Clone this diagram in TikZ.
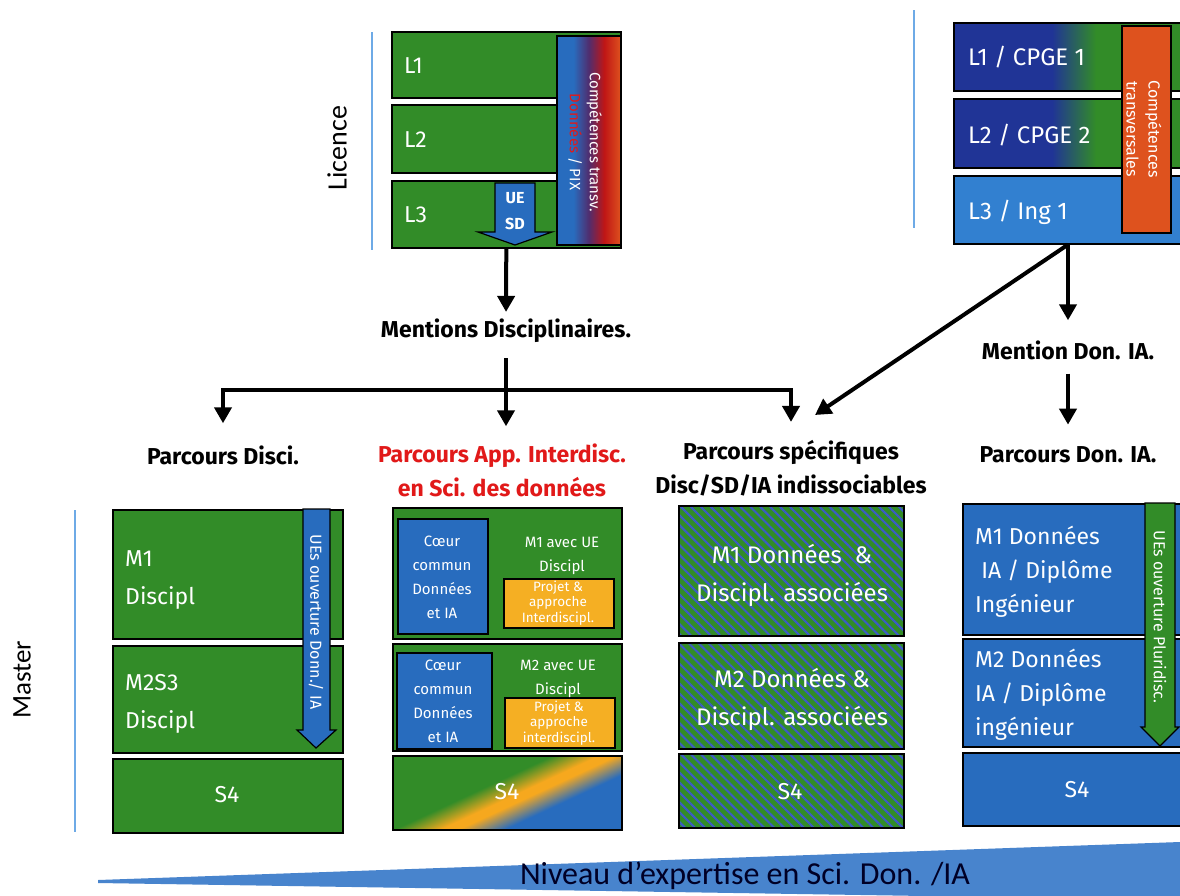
\documentclass[tikz,border=0pt]{standalone}
\usepackage{fontspec}
\setmainfont{Fira Sans}
\newfontfamily\calib{Carlito}
\usetikzlibrary{arrows.meta,patterns.meta}
\definecolor{gr}{RGB}{50,140,40}
\definecolor{bl}{RGB}{40,108,190}
\definecolor{dbl}{RGB}{32,52,150}
\definecolor{lbl}{RGB}{50,128,208}
\definecolor{orb}{RGB}{222,82,30}
\definecolor{yel}{RGB}{245,175,35}
\definecolor{rd}{RGB}{225,25,25}
\definecolor{wedge}{RGB}{72,132,205}
\definecolor{vline}{RGB}{110,170,230}
\definecolor{stripe}{RGB}{60,90,200}
\definecolor{dpur}{RGB}{80,45,110}
\pgfdeclarehorizontalshading{compshade}{100bp}{color(0bp)=(bl); color(25bp)=(bl); color(38bp)=(bl); color(50bp)=(dpur); color(62bp)=(rd!85!black); color(75bp)=(orb); color(100bp)=(orb)}
\pgfdeclarehorizontalshading{cpgeshade}{100bp}{color(0bp)=(dbl); color(25bp)=(dbl); color(45bp)=(dbl); color(54bp)=(gr); color(75bp)=(gr); color(100bp)=(gr)}
\pgfdeclarehorizontalshading{sfourshade}{100bp}{color(0bp)=(gr); color(25bp)=(gr); color(44bp)=(gr); color(52bp)=(yel!85!orange); color(55bp)=(yel!85!orange); color(63bp)=(bl); color(75bp)=(bl); color(100bp)=(bl)}
\tikzset{
  bx/.style={draw=black, line width=1.6pt, fill=gr, inner sep=0pt, anchor=north west},
  wt/.style={text=white, inner sep=0pt, font=\fontsize{23}{38}\selectfont},
  lab/.style={font=\bfseries\fontsize{23}{34}\selectfont, inner sep=0pt, align=center},
  arr/.style={line width=4pt, -{Triangle[width=17pt,length=16pt]}},
  ln/.style={line width=4pt},
  vl/.style={draw=vline, line width=1.2pt},
  hatch/.style={preaction={fill=gr}, pattern={Lines[angle=-45,distance=7pt,line width=2pt]}, pattern color=stripe},
  arrpoly/.style={draw=black, line width=1.2pt},
}
\begin{document}
\begin{tikzpicture}[x=1pt,y=-1pt]
\useasboundingbox (0,0) rectangle (1180,895);
\fill[white] (0,0) rectangle (1180,895);
\clip (0,0) rectangle (1180,895);

% ---------- Licence (left) ----------
\node[rotate=90, font=\calib\fontsize{28}{30}\selectfont, inner sep=0pt] (lic) at (337,148) {Licence};
\draw[vl] (372,32) -- (372,250);
\node[bx, minimum width=229pt, minimum height=66pt] (L1) at (391,31) {};
\node[bx, minimum width=229pt, minimum height=68pt] (L2) at (391,104) {};
\node[bx, minimum width=229pt, minimum height=67pt] (L3) at (391,180) {};
\node[wt, anchor=west] (tL1) at (404,66) {L1};
\node[wt, anchor=west] (tL2) at (404,140) {L2};
\node[wt, anchor=west] (tL3) at (404,215) {L3};
\node[bx, shading=compshade, minimum width=64pt, minimum height=209pt] (bar) at (556,35) {};
\node[rotate=-90, align=center, text=white, inner sep=0pt, font=\fontsize{15}{20}\selectfont] (barT) at (585,142) {Compétences transv.\\\textcolor{rd}{Données} / PIX};
\draw[arrpoly, fill=bl] (495,183) -- (535,183) -- (535,232) -- (552,232) -- (515,245) -- (478,232) -- (495,232) -- cycle;
\node[font=\bfseries\fontsize{16}{26}\selectfont, text=white, align=center, inner sep=0pt] (uesd) at (515,211) {UE\\SD};

% ---------- Licence (right) ----------
\draw[vl] (914,10) -- (914,228);
\node[bx, shading=cpgeshade, minimum width=245pt, minimum height=68pt] (C1) at (953,22) {};
\node[bx, shading=cpgeshade, minimum width=245pt, minimum height=69pt] (C2) at (953,98) {};
\node[bx, fill=lbl, minimum width=245pt, minimum height=68pt] (L3i) at (953,175) {};
\node[wt, anchor=west, font=\fontsize{24}{30}\selectfont] (tC1) at (968,57) {L1 / CPGE 1};
\node[wt, anchor=west, font=\fontsize{24}{30}\selectfont] (tC2) at (968,135) {L2 / CPGE 2};
\node[wt, anchor=west, font=\fontsize{24}{30}\selectfont] (tC3) at (968,212) {L3 / Ing 1};
\node[bx, fill=orb, minimum width=49pt, minimum height=207pt] (obar) at (1121,25) {};
\node[rotate=-90, align=center, text=white, inner sep=0pt, font=\fontsize{16}{22}\selectfont] (obarT) at (1144,129) {Compétences\\transversales};

% ---------- labels ----------
\node[lab] (mentD) at (506,331) {Mentions Disciplinaires.};
\node[lab] (pDisc) at (223,455) {Parcours Disci.};
\node[lab, text=rd] (pApp) at (502,470) {Parcours App. Interdisc.\\en Sci. des données};
\node[lab] (pSpec) at (791,468) {Parcours spécifiques\\Disc/SD/IA indissociables};
\node[lab] (mDon) at (1068,350) {Mention Don. IA.};
\node[lab] (pDon) at (1068,455) {Parcours Don. IA.};

% ---------- connectors ----------
\coordinate (br) at (506,390);
\coordinate (dtip) at (815,415);
\draw[arr, shorten >=7pt] (L3.south) -- (mentD.north);
\draw[ln, shorten <=15pt] (mentD.south) -- (br);
\draw[arr, shorten >=22pt] (br) -| (pDisc.north);
\draw[arr, shorten >=17pt] (br) -- (br |- pApp.north);
\draw[arr, shorten >=18pt] (br) -| (pSpec.north);
\draw[arr, shorten >=20pt] (L3i.south -| mDon.north) -- (mDon.north);
\draw[arr] (L3i.south -| mDon.north) -- (dtip);
\draw[arr, shorten <=14pt, shorten >=22pt] (mDon.south) -- (pDon.north);

% ---------- Master ----------
\node[rotate=90, font=\calib\fontsize{27}{30}\selectfont, inner sep=0pt] (mas) at (22,680) {Master};
\draw[vl] (75,510) -- (75,832);

% column 1
\node[bx, minimum width=230pt, minimum height=129pt] (a1) at (112,509) {};
\node[bx, minimum width=230pt, minimum height=107pt] (a2) at (112,645) {};
\node[bx, minimum width=230pt, minimum height=74pt] (a3) at (112,758) {};
\node[wt, anchor=west, align=left] (ta1) at (125,580) {M1\\Discipl};
\node[wt, anchor=west, align=left] (ta2) at (125,704) {M2S3\\Discipl};
\node[wt] (ta3) at (227,795) {S4};
\draw[arrpoly, fill=bl] (303,509) -- (330,509) -- (330,730) -- (336,730) -- (316,748) -- (297,730) -- (303,730) -- cycle;
\node[rotate=-90, text=white, inner sep=0pt, font=\fontsize{16}{18}\selectfont] (ta4) at (316,622) {UEs ouverture Donn./ IA};

% column 2
\node[bx, minimum width=229pt, minimum height=131pt] (b1) at (392,507) {};
\node[bx, minimum width=229pt, minimum height=107pt] (b2) at (392,643) {};
\node[bx, shading=sfourshade, shading angle=-65, minimum width=229pt, minimum height=74pt] (b3) at (392,755) {};
\node[bx, fill=bl, minimum width=90pt, minimum height=115pt] (cc1) at (397,518) {};
\node[bx, fill=bl, minimum width=95pt, minimum height=96pt] (cc2) at (396,652) {};
\node[bx, fill=yel, minimum width=110pt, minimum height=49pt] (pj1) at (503,578) {};
\node[bx, fill=yel, minimum width=110pt, minimum height=50pt] (pj2) at (504,697) {};
\node[text=white, align=center, inner sep=0pt, font=\fontsize{15}{24}\selectfont] (tcc1) at (442,577) {Cœur\\commun\\Données\\et IA};
\node[text=white, align=center, inner sep=0pt, font=\fontsize{15}{24}\selectfont] (tcc2) at (443,701) {Cœur\\commun\\Données\\et IA};
\node[text=white, align=center, inner sep=0pt, font=\fontsize{15}{24}\selectfont] (tb1) at (562,556) {M1 avec UE\\Discipl};
\node[text=white, align=center, inner sep=0pt, font=\fontsize{15}{24}\selectfont] (tb2) at (558,679) {M2 avec UE\\Discipl};
\node[text=white, align=center, inner sep=0pt, font=\fontsize{13.5}{15.5}\selectfont] (tpj1) at (558,603) {Projet \&\\approche\\Interdiscipl.};
\node[text=white, align=center, inner sep=0pt, font=\fontsize{13.5}{15.5}\selectfont] (tpj2) at (559,723) {Projet \&\\approche\\interdiscipl.};
\node[wt] (tb3) at (507,792) {S4};

% column 3
\node[bx, hatch, minimum width=225pt, minimum height=130pt] (c1) at (678,505) {};
\node[bx, hatch, minimum width=225pt, minimum height=106pt] (c2) at (678,642) {};
\node[bx, hatch, minimum width=225pt, minimum height=74pt] (c3) at (678,753) {};
\node[wt, align=center, font=\fontsize{24}{38}\selectfont] (tc1) at (792,575) {M1 Données\ \ \&\\Discipl. associées};
\node[wt, align=center, font=\fontsize{24}{38}\selectfont] (tc2) at (792,699) {M2 Données \&\\Discipl. associées};
\node[wt] (tc3) at (790,792) {S4};

% column 4
\node[bx, fill=bl, minimum width=235pt, minimum height=131pt] (d1) at (962,503) {};
\node[bx, fill=bl, minimum width=235pt, minimum height=108pt] (d2) at (962,638) {};
\node[bx, fill=bl, minimum width=235pt, minimum height=73pt] (d3) at (962,752) {};
\node[wt, anchor=west, align=left, font=\fontsize{23}{34}\selectfont] (td1) at (975,572) {M1 Données\\\ IA / Diplôme\\Ingénieur};
\node[wt, anchor=west, align=left, font=\fontsize{23}{34}\selectfont] (td2) at (975,695) {M2 Données\\IA / Diplôme\\ingénieur};
\node[wt] (td3) at (1077,790) {S4};
\draw[arrpoly, fill=gr] (1145,503) -- (1175,503) -- (1175,727) -- (1179,727) -- (1160,746) -- (1141,727) -- (1145,727) -- cycle;
\node[rotate=-90, text=white, inner sep=0pt, font=\fontsize{16}{18}\selectfont] (td4) at (1160,617) {UEs ouverture Pluridisc.};

% ---------- expertise wedge ----------
\fill[wedge] (98,880) -- (1180,842) -- (1180,900) -- (98,883) -- cycle;
\node[font=\calib\fontsize{32}{34}\selectfont, text=black!85!blue, inner sep=0pt] (niv) at (745,876) {Niveau d’expertise en Sci. Don. /IA};
\end{tikzpicture}
\end{document}
